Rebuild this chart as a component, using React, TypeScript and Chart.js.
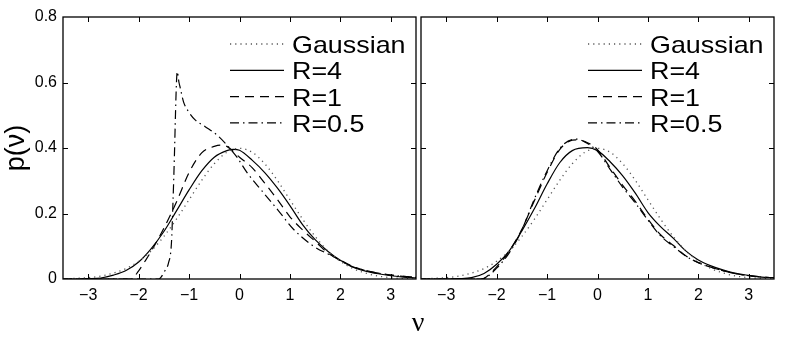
import React, { useEffect, useRef } from "react";
import { Chart, registerables } from "chart.js";

Chart.register(...registerables);

// ---------- data ----------
const X_TICKS = [-3, -2, -1, 0, 1, 2, 3];
const Y_TICKS = [0, 0.2, 0.4, 0.6, 0.8];
const SERIES_LABELS = ["Gaussian", "R=4", "R=1", "R=0.5"];
const X_TITLE = "ν";
const Y_TITLE = "p(ν)";

// Gaussian reference (same in both panels)
const GAUSS_X = [-3.5, -3.25, -3, -2.75, -2.5, -2.25, -2, -1.75, -1.5, -1.25, -1, -0.75, -0.5, -0.25, 0, 0.25, 0.5, 0.75, 1, 1.25, 1.5, 1.75, 2, 2.25, 2.5, 2.75, 3, 3.25, 3.5];
const GAUSS_Y = [0.001, 0.002, 0.004, 0.009, 0.018, 0.032, 0.054, 0.086, 0.13, 0.183, 0.242, 0.301, 0.352, 0.387, 0.399, 0.387, 0.352, 0.301, 0.242, 0.183, 0.13, 0.086, 0.054, 0.032, 0.018, 0.009, 0.004, 0.002, 0.001];

// Left panel
const L_R4_X = [-3.5, -3.25, -3, -2.75, -2.5, -2.25, -2, -1.75, -1.5, -1.25, -1, -0.75, -0.5, -0.25, -0.12, 0, 0.25, 0.5, 0.75, 1, 1.25, 1.5, 1.75, 2, 2.25, 2.5, 2.75, 3, 3.25, 3.5];
const L_R4_Y = [0, 0, 0.001, 0.003, 0.012, 0.026, 0.052, 0.093, 0.145, 0.208, 0.272, 0.33, 0.372, 0.392, 0.396, 0.393, 0.363, 0.325, 0.278, 0.224, 0.166, 0.12, 0.085, 0.057, 0.036, 0.024, 0.016, 0.01, 0.006, 0.003];

const L_R1_X = [-3.5, -2.15, -2, -1.85, -1.75, -1.5, -1.25, -1, -0.75, -0.5, -0.38, -0.25, 0, 0.25, 0.5, 0.75, 1, 1.25, 1.5, 1.75, 2, 2.25, 2.5, 2.75, 3, 3.25, 3.5];
const L_R1_Y = [0, 0, 0.025, 0.06, 0.085, 0.155, 0.235, 0.325, 0.385, 0.405, 0.409, 0.405, 0.372, 0.34, 0.293, 0.243, 0.19, 0.15, 0.115, 0.08, 0.058, 0.038, 0.026, 0.018, 0.012, 0.008, 0.005];

const L_R05_X = [-3.5, -1.6, -1.55, -1.48, -1.41, -1.35, -1.32, -1.29, -1.27, -1.25, -1.235, -1.2, -1.18, -1.11, -1.01, -0.88, -0.68, -0.45, -0.25, -0.05, 0.15, 0.45, 0.77, 1.07, 1.47, 1.8, 2.25, 2.5, 2.75, 3, 3.25, 3.5];
const L_R05_Y = [0, 0, 0.007, 0.025, 0.048, 0.109, 0.23, 0.38, 0.5, 0.6, 0.633, 0.6, 0.587, 0.541, 0.511, 0.486, 0.465, 0.44, 0.409, 0.372, 0.325, 0.268, 0.209, 0.152, 0.1, 0.073, 0.037, 0.026, 0.018, 0.012, 0.008, 0.006];

// Right panel
const R_R4_X = [-3.5, -3, -2.75, -2.5, -2.25, -2, -1.75, -1.5, -1.25, -1, -0.75, -0.5, -0.2, 0, 0.25, 0.5, 0.75, 1, 1.25, 1.5, 1.75, 2, 2.25, 2.5, 2.75, 3, 3.25, 3.5];
const R_R4_Y = [0, 0, 0.001, 0.004, 0.017, 0.045, 0.086, 0.147, 0.215, 0.29, 0.355, 0.392, 0.401, 0.392, 0.358, 0.315, 0.262, 0.203, 0.16, 0.125, 0.086, 0.058, 0.04, 0.027, 0.017, 0.011, 0.006, 0.004];

const R_R1_X = [-3.5, -2.3, -2.25, -2, -1.75, -1.5, -1.25, -1, -0.75, -0.5, -0.4, -0.25, 0, 0.25, 0.5, 0.75, 1, 1.25, 1.5, 1.75, 2, 2.25, 2.5, 2.75, 3, 3.25, 3.5];
const R_R1_Y = [0, 0, 0.002, 0.037, 0.085, 0.152, 0.24, 0.325, 0.395, 0.424, 0.425, 0.42, 0.395, 0.34, 0.286, 0.237, 0.183, 0.135, 0.103, 0.071, 0.05, 0.036, 0.025, 0.016, 0.01, 0.006, 0.004];

const R_R05_X = [-3.5, -2.3, -2.25, -2, -1.75, -1.5, -1.25, -1, -0.75, -0.5, -0.4, -0.25, 0, 0.25, 0.5, 0.75, 1, 1.25, 1.5, 1.75, 2, 2.25, 2.5, 2.75, 3, 3.25, 3.5];
const R_R05_Y = [0, 0, 0.001, 0.033, 0.08, 0.15, 0.245, 0.33, 0.398, 0.426, 0.427, 0.418, 0.39, 0.335, 0.28, 0.232, 0.18, 0.132, 0.1, 0.07, 0.05, 0.036, 0.025, 0.016, 0.01, 0.006, 0.004];

// ---------- styles ----------
const STYLES = [
  { color: "#555", dash: [1.2, 4], width: 1.3 },
  { color: "#000", dash: [], width: 1.2 },
  { color: "#000", dash: [9, 6], width: 1.2 },
  { color: "#000", dash: [9, 4, 1.5, 4], width: 1.2 },
];

const FONT = '"Liberation Sans", Arial, Helvetica, sans-serif';

const pts = (xs: number[], ys: number[]) => xs.map((x, i) => ({ x, y: ys[i] }));

const makeDatasets = (series: [number[], number[]][]) =>
  series.map(([xs, ys], i) => ({
    label: SERIES_LABELS[i],
    data: pts(xs, ys),
    borderColor: STYLES[i].color,
    borderDash: STYLES[i].dash,
    borderWidth: STYLES[i].width,
    pointRadius: 0,
    fill: false,
    cubicInterpolationMode: "monotone" as const,
  }));

const framePlugin = {
  id: "frameDeco",
  afterDatasetsDraw(chart: any, _args: any, opts: any) {
    const { ctx, chartArea: a, scales } = chart;
    ctx.save();
    ctx.setLineDash([]);
    ctx.strokeStyle = "#000";
    ctx.lineWidth = 1.3;
    ctx.strokeRect(a.left, a.top, a.right - a.left, a.bottom - a.top);
    ctx.lineWidth = 1;
    const tl = 5;
    const seg = (x1: number, y1: number, x2: number, y2: number) => {
      ctx.beginPath();
      ctx.moveTo(x1, y1);
      ctx.lineTo(x2, y2);
      ctx.stroke();
    };
    for (const v of X_TICKS) {
      const px = Math.round(scales.x.getPixelForValue(v)) + 0.5;
      seg(px, a.bottom, px, a.bottom - tl);
      seg(px, a.top, px, a.top + tl);
    }
    for (const v of Y_TICKS) {
      if (v <= Y_TICKS[0] || v >= Y_TICKS[Y_TICKS.length - 1]) continue;
      const py = Math.round(scales.y.getPixelForValue(v)) + 0.5;
      seg(a.left, py, a.left + tl, py);
      seg(a.right, py, a.right - tl, py);
    }
    // legend
    const rowStep = 26.3;
    SERIES_LABELS.forEach((label, i) => {
      const y = a.top + 27 + i * rowStep;
      const st = STYLES[i];
      ctx.strokeStyle = st.color;
      ctx.lineWidth = st.width;
      ctx.setLineDash(st.dash);
      ctx.beginPath();
      ctx.moveTo(a.right - 186, y);
      ctx.lineTo(a.right - 132, y);
      ctx.stroke();
      ctx.setLineDash([]);
      ctx.fillStyle = "#000";
      ctx.font = `24px ${FONT}`;
      ctx.textBaseline = "alphabetic";
      ctx.textAlign = "left";
      ctx.save();
      ctx.translate(a.right - 124, y + 9);
      ctx.scale(1.12, 1);
      ctx.fillText(label, 0, 0);
      ctx.restore();
    });
    if (opts && opts.xTitle) {
      ctx.fillStyle = "#000";
      ctx.font = `28px "Liberation Serif", "DejaVu Serif", serif`;
      ctx.textAlign = "center";
      ctx.textBaseline = "alphabetic";
      ctx.fillText(X_TITLE, opts.xTitleX, opts.xTitleY);
    }
    ctx.restore();
  },
};

const xTickCb = (v: any) => {
  const n = Number(v);
  return n < 0 ? "\u2212" + Math.abs(n) : String(n);
};

function makeConfig(datasets: any[], left: boolean): any {
  return {
    type: "line",
    data: { datasets },
    plugins: [framePlugin],
    options: {
      animation: false,
      responsive: false,
      devicePixelRatio: 1,
      layout: left
        ? { padding: { top: 17, right: 789 - 416, bottom: 0, left: 0 } }
        : { padding: { top: 17, right: 15, bottom: 0, left: 421 } },
      plugins: {
        legend: { display: false },
        tooltip: { enabled: false },
        frameDeco: left ? {} : { xTitle: true, xTitleX: 418, xTitleY: 331 },
      },
      scales: {
        x: {
          type: "linear",
          min: -3.5,
          max: 3.5,
          afterBuildTicks: (s: any) => {
            s.ticks = X_TICKS.map((value) => ({ value }));
          },
          afterFit: (s: any) => {
            s.height = 58;
          },
          grid: { display: false, drawTicks: false },
          border: { display: false },
          ticks: {
            callback: xTickCb,
            color: "#000",
            font: { family: FONT, size: 16 },
            padding: 7,
            maxRotation: 0,
            autoSkip: false,
          },
        },
        y: {
          type: "linear",
          display: left,
          min: 0,
          max: 0.8,
          afterBuildTicks: (s: any) => {
            s.ticks = Y_TICKS.map((value) => ({ value }));
          },
          afterFit: (s: any) => {
            s.width = left ? 63 : 0;
          },
          grid: { display: false, drawTicks: false },
          border: { display: false },
          title: {
            display: true,
            text: Y_TITLE,
            color: "#000",
            font: { family: FONT, size: 27 },
            padding: { top: 0, bottom: 0 },
          },
          ticks: {
            callback: (v: any) => (Number(v) === 0 ? "0" : Number(v).toFixed(1)),
            color: "#000",
            font: { family: FONT, size: 16 },
            padding: 6,
          },
        },
      },
    },
  };
}

function Panel({ datasets, left }: { datasets: any[]; left: boolean }) {
  const ref = useRef<HTMLCanvasElement>(null);
  useEffect(() => {
    if (!ref.current) return;
    const chart = new Chart(ref.current, makeConfig(datasets, left));
    return () => chart.destroy();
  }, []);
  return (
    <canvas
      ref={ref}
      width={789}
      height={337}
      style={{ position: "absolute", left: 0, top: 0, width: 789, height: 337 }}
    />
  );
}

export default function App() {
  const leftSets = makeDatasets([
    [GAUSS_X, GAUSS_Y],
    [L_R4_X, L_R4_Y],
    [L_R1_X, L_R1_Y],
    [L_R05_X, L_R05_Y],
  ]);
  const rightSets = makeDatasets([
    [GAUSS_X, GAUSS_Y],
    [R_R4_X, R_R4_Y],
    [R_R1_X, R_R1_Y],
    [R_R05_X, R_R05_Y],
  ]);
  return (
    <div style={{ position: "absolute", left: 0, top: 0, width: 789, height: 337, background: "#fff" }}>
      <Panel datasets={leftSets} left={true} />
      <Panel datasets={rightSets} left={false} />
    </div>
  );
}
